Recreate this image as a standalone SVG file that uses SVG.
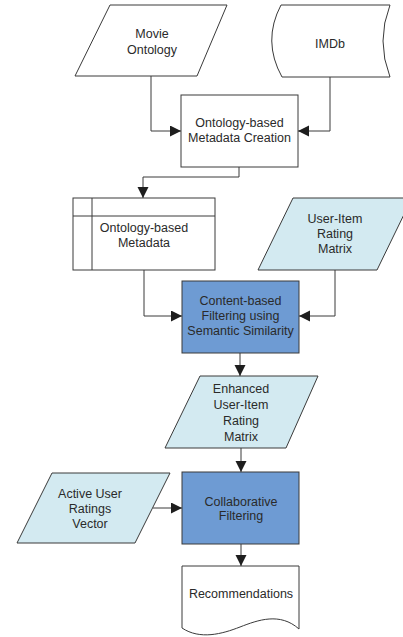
<svg xmlns="http://www.w3.org/2000/svg" width="403" height="637" viewBox="0 0 403 637">
  <style>
    .shape { stroke: #3a3a3a; stroke-width: 1; fill: #ffffff; }
    .light { fill: #d3eaf1; }
    .dark { fill: #6e9bd3; }
    .label { font-family: "Liberation Sans", Arial, sans-serif; font-size: 12.5px; fill: #2a2a2a; text-anchor: middle; }
    .conn { fill: none; stroke: #3a3a3a; stroke-width: 1; marker-end: url(#arrow); }
  </style>
  <defs>
    <marker id="arrow" markerUnits="userSpaceOnUse" markerWidth="12" markerHeight="12" refX="11" refY="5.5" orient="auto">
      <path d="M0,0 L11,5.5 L0,11 Z" fill="#1e1e1e"/>
    </marker>
  </defs>
  <rect width="403" height="637" fill="#ffffff"/>

  <g id="connectors">
    <path class="conn" d="M151,76 V131 H181"/>
    <path class="conn" d="M330,77 V131 H298"/>
    <path class="conn" d="M239,167 V177 H143 V198"/>
    <path class="conn" d="M144,270 V316 H182"/>
    <path class="conn" d="M335,270 V316 H299"/>
    <path class="conn" d="M240,353 V376"/>
    <path class="conn" d="M241,448 V472"/>
    <path class="conn" d="M153,508 H182"/>
    <path class="conn" d="M241,544 V566"/>
  </g>

  <g id="movie-ontology">
    <polygon class="shape" points="110,5 227,5 197,76 75,76"/>
    <text class="label" x="152" y="37.5">Movie</text>
    <text class="label" x="152" y="53.5">Ontology</text>
  </g>

  <g id="imdb">
    <path class="shape" d="M281,5 L390,5 Q376,41 390,77 L282,77 Q262,41 281,5 Z"/>
    <text class="label" x="330" y="47.5">IMDb</text>
  </g>

  <g id="metadata-creation">
    <rect class="shape" x="181" y="95" width="117" height="72"/>
    <text class="label" x="239.5" y="127">Ontology-based</text>
    <text class="label" x="239.5" y="142">Metadata Creation</text>
  </g>

  <g id="metadata">
    <rect class="shape" x="73" y="198" width="142" height="72"/>
    <line class="shape" x1="92" y1="198" x2="92" y2="270"/>
    <line class="shape" x1="73" y1="216" x2="215" y2="216"/>
    <text class="label" x="144" y="231.5">Ontology-based</text>
    <text class="label" x="144" y="246.5">Metadata</text>
  </g>

  <g id="rating-matrix">
    <polygon class="shape light" points="293,198 412,198 377,270 258,270"/>
    <text class="label" x="335" y="222.5">User-Item</text>
    <text class="label" x="335" y="237.5">Rating</text>
    <text class="label" x="335" y="252.5">Matrix</text>
  </g>

  <g id="content-filtering">
    <rect class="shape dark" x="182" y="281" width="117" height="72"/>
    <text class="label" x="240.5" y="304.5">Content-based</text>
    <text class="label" x="240.5" y="319.5">Filtering using</text>
    <text class="label" x="240.5" y="334.5">Semantic Similarity</text>
  </g>

  <g id="enhanced-matrix">
    <polygon class="shape light" points="200,376 318,376 286,448 165,448"/>
    <text class="label" x="241" y="392.5">Enhanced</text>
    <text class="label" x="241" y="408.5">User-Item</text>
    <text class="label" x="241" y="424.5">Rating</text>
    <text class="label" x="241" y="440.5">Matrix</text>
  </g>

  <g id="active-user">
    <polygon class="shape light" points="52,473 170,473 135,543 17,543"/>
    <text class="label" x="90" y="497.5">Active User</text>
    <text class="label" x="90" y="513">Ratings</text>
    <text class="label" x="90" y="527.5">Vector</text>
  </g>

  <g id="collaborative-filtering">
    <rect class="shape dark" x="182" y="472" width="117" height="72"/>
    <text class="label" x="241" y="505.5">Collaborative</text>
    <text class="label" x="241" y="520">Filtering</text>
  </g>

  <g id="recommendations">
    <path class="shape" d="M182,566 H299 V629 C280,612 258,620 240,627 C222,634 200,640 182,628 Z"/>
    <text class="label" x="241" y="597.5">Recommendations</text>
  </g>
</svg>
